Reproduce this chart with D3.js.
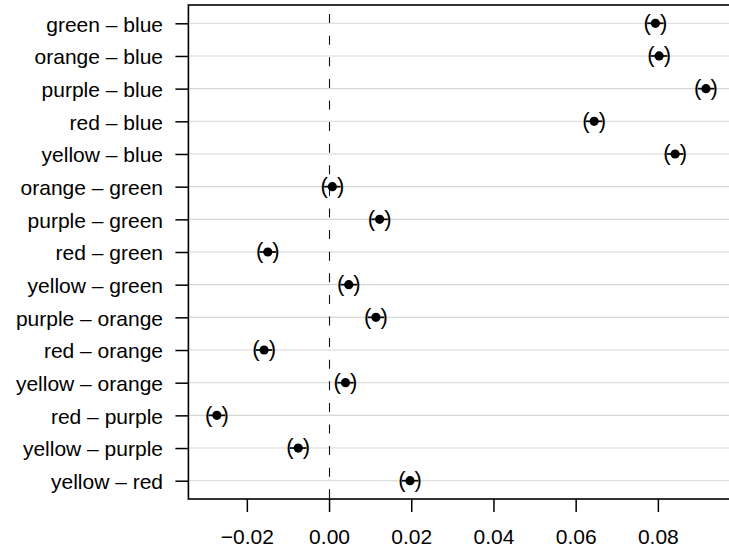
<!DOCTYPE html>
<html>
<head>
<meta charset="utf-8">
<script src="https://cdn.jsdelivr.net/npm/d3@7"></script>
<style>
  html, body { margin: 0; padding: 0; background: #fff; }
  svg { display: block; }
  text { font-family: "Liberation Sans", Arial, Helvetica, sans-serif; fill: #000; }
</style>
</head>
<body>
<svg id="chart" width="729" height="552"></svg>
<script>
// Pairwise differences with simultaneous confidence intervals
const comparisons = [
  "green – blue", "orange – blue", "purple – blue", "red – blue", "yellow – blue",
  "orange – green", "purple – green", "red – green", "yellow – green",
  "purple – orange", "red – orange", "yellow – orange",
  "red – purple", "yellow – purple", "yellow – red"
];
const estimate = [0.0794, 0.0803, 0.0917, 0.0645, 0.0842, 0.0008, 0.0123, -0.0149, 0.0048,
                  0.0114, -0.0158, 0.0040, -0.0273, -0.0075, 0.0197];
const lower    = [0.0774, 0.0783, 0.0897, 0.0625, 0.0822, -0.0012, 0.0103, -0.0169, 0.0028,
                  0.0094, -0.0178, 0.0020, -0.0293, -0.0095, 0.0177];
const upper    = [0.0814, 0.0823, 0.0937, 0.0665, 0.0862, 0.0028, 0.0143, -0.0129, 0.0068,
                  0.0134, -0.0138, 0.0060, -0.0253, -0.0055, 0.0217];
const xTickValues = [-0.02, 0.00, 0.02, 0.04, 0.06, 0.08];
const xTickLabels = ["−0.02", "0.00", "0.02", "0.04", "0.06", "0.08"];

const n = comparisons.length;
const rows = comparisons.map((d, i) => ({
  label: d, est: estimate[i], lwr: lower[i], upr: upper[i], pos: n - i
}));

// Plot region (right edge runs just past the window)
const plot = { left: 188.4, right: 734.4, top: 5, bottom: 499 };
const fontSize = 21;

// Axis limits padded by 4% on each side
const lo = d3.min(lower), hi = d3.max(upper);
const padX = (hi - lo) * 0.04;
const x = d3.scaleLinear().domain([lo - padX, hi + padX]).range([plot.left, plot.right]);
const padY = (n - 1) * 0.04;
const y = d3.scaleLinear().domain([1 - padY, n + padY]).range([plot.bottom, plot.top]);

const svg = d3.select("#chart");

// Horizontal guide lines at each comparison
svg.append("g")
  .selectAll("line")
  .data(rows)
  .join("line")
  .attr("x1", plot.left).attr("x2", plot.right)
  .attr("y1", d => y(d.pos)).attr("y2", d => y(d.pos))
  .attr("stroke", "#d6d6d6")
  .attr("stroke-width", 1.1);

// Reference line at zero difference, dashes running up from the bottom edge
const x0 = Math.floor(x(0)) + 0.5;
svg.append("line")
  .attr("x1", x0).attr("x2", x0)
  .attr("y1", plot.bottom).attr("y2", plot.top)
  .attr("stroke", "#111")
  .attr("stroke-width", 1.1)
  .attr("stroke-dasharray", "9,12.6")
  .attr("stroke-dashoffset", -0.7);

// Interval segments
const marks = svg.append("g");
marks.selectAll("line")
  .data(rows)
  .join("line")
  .attr("x1", d => x(d.lwr)).attr("x2", d => x(d.upr))
  .attr("y1", d => y(d.pos)).attr("y2", d => y(d.pos))
  .attr("stroke", "#000")
  .attr("stroke-width", 1.7);

// Interval end markers
marks.selectAll("text.lwr")
  .data(rows)
  .join("text")
  .attr("class", "lwr")
  .attr("x", d => x(d.lwr))
  .attr("y", d => y(d.pos) + 6.3)
  .attr("text-anchor", "middle")
  .style("font-size", "22px")
  .text("(");
marks.selectAll("text.upr")
  .data(rows)
  .join("text")
  .attr("class", "upr")
  .attr("x", d => x(d.upr))
  .attr("y", d => y(d.pos) + 6.3)
  .attr("text-anchor", "middle")
  .style("font-size", "22px")
  .text(")");

// Point estimates
marks.selectAll("circle")
  .data(rows)
  .join("circle")
  .attr("cx", d => x(d.est))
  .attr("cy", d => y(d.pos))
  .attr("r", 4.6)
  .attr("fill", "#000");

// Bottom axis
const xAxis = svg.append("g")
  .attr("transform", `translate(0,${plot.bottom})`)
  .call(d3.axisBottom(x)
    .tickValues(xTickValues)
    .tickFormat((d, i) => xTickLabels[i])
    .tickSize(13)
    .tickPadding(17));
xAxis.select(".domain").remove();
xAxis.selectAll(".tick line").attr("stroke", "#000").attr("stroke-width", 1.5);
xAxis.selectAll("text").style("font-size", fontSize + "px");
xAxis.attr("font-family", null).attr("font-size", null);

// Left axis with comparison labels
const yAxis = svg.append("g")
  .attr("transform", `translate(${plot.left},0)`)
  .call(d3.axisLeft(y)
    .tickValues(rows.map(d => d.pos))
    .tickFormat(p => rows[n - p].label)
    .tickSize(13)
    .tickPadding(12.4));
yAxis.select(".domain").remove();
yAxis.selectAll(".tick line").attr("stroke", "#000").attr("stroke-width", 1.5);
yAxis.selectAll("text").attr("dy", "0.37em")
  .style("font-size", fontSize + "px");
yAxis.attr("font-family", null).attr("font-size", null);

// Plot frame
svg.append("rect")
  .attr("x", plot.left).attr("y", plot.top)
  .attr("width", plot.right - plot.left)
  .attr("height", plot.bottom - plot.top)
  .attr("fill", "none")
  .attr("stroke", "#000")
  .attr("stroke-width", 1.6);
</script>
</body>
</html>
